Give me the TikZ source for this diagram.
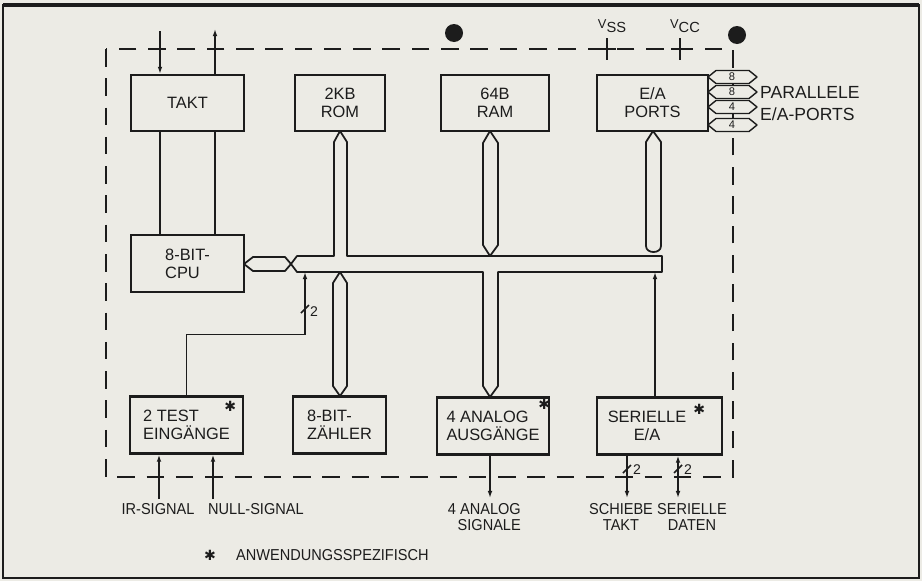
\documentclass[tikz,border=0pt]{standalone}
\usepackage{fontspec}
\setmainfont{Liberation Sans}
\newfontfamily\narrowfont[FakeStretch=0.92]{Liberation Sans}
\newfontfamily\symbolfont{DejaVu Sans}
\definecolor{paper}{RGB}{236,235,229}
\definecolor{ink}{RGB}{28,28,28}
\usetikzlibrary{calc,arrows.meta}

\newcommand{\spez}{{\symbolfont\fontsize{12}{12}\selectfont ✱}}

\tikzset{
  blk/.style={draw=ink, line width=2pt, fill=paper, inner sep=0pt, text=ink,
    font=\fontsize{14}{15.5}\selectfont},
  sig/.style={draw=ink, line width=1.3pt},
  bus/.style={draw=ink, line width=1.5pt, fill=paper, line join=round},
  dashbox/.style={draw=ink, line width=1.8pt, dash pattern=on 15pt off 10pt},
  lbl/.style={font=\narrowfont\fontsize{13.5}{13.6}\selectfont, inner sep=0pt, text=ink},
  plbl/.style={font=\fontsize{15}{15}\selectfont, inner sep=0pt, text=ink},
  portnum/.style={font=\fontsize{9.5}{9.5}\selectfont, inner sep=0pt, text=ink},
}

\begin{document}
\begin{tikzpicture}[x=0.03cm, y=-0.03cm, >={Latex[length=6pt,width=4pt]}]
    \useasboundingbox (0,0) rectangle (922,581);
    \fill[paper] (0,0) rectangle (922,581);
    % frame
    \draw[ink, line width=1.8pt] (3,5) rectangle (919,578);
    \draw[ink, line width=2.6pt] (3,5) -- (919,5);

    % chip outline
    \draw[dashbox] (106,49) rectangle (733,477);
    \fill[ink] (454,33) circle (9);
    \fill[ink] (737,35) circle (9);

    % supply pins
    \foreach \xx/\nm/\sub in {607/vss/SS, 680/vcc/CC} {
        \draw[ink, line width=1.8pt] (\xx,38) -- (\xx,60);
        \draw[ink, line width=1.8pt] (\xx-9,49) -- (\xx+9,49);
        \node[inner sep=0pt, text=ink] (\nm) at (\xx+5,26)
            {\raisebox{0.3ex}{\fontsize{11}{11}\selectfont V}\raisebox{-0.45ex}{\fontsize{12.5}{12.5}\selectfont \sub}};
    }

    % buses
    \draw[bus] (297,256) -- (334,256) -- (334,142) -- (340,131) -- (347,142) -- (347,256)
        -- (662,256) -- (662,272) -- (498,272) -- (498,386) -- (490,397) -- (483,386)
        -- (483,272) -- (297,272) -- (291,264) -- cycle;
    \draw[bus] (490,131) -- (498,143) -- (498,245) -- (490,256) -- (483,245) -- (483,143) -- cycle;
    \draw[bus] (340,272) -- (347,283) -- (347,386) -- (340,396) -- (333,386) -- (333,283) -- cycle;
    \draw[bus] (653,131) -- (661,142) -- (661,246) .. controls (661,254) and (646,254) .. (646,246)
        -- (646,142) -- cycle;
    \draw[bus] (244,264) -- (253,257) -- (285,257) -- (291,264) -- (285,271) -- (253,271) -- cycle;

    % blocks
    \node[blk, minimum width=3.39cm, minimum height=1.68cm] (takt) at (187.5,103) {TAKT};
    \node[blk, minimum width=2.7cm, minimum height=1.68cm, align=center] (rom) at (340,103) {2KB\\ROM};
    \node[blk, minimum width=3.24cm, minimum height=1.68cm, align=center] (ram) at (495,103) {64B\\RAM};
    \node[blk, minimum width=3.33cm, minimum height=1.68cm, align=center] (ports) at (652.5,103) {E/A\\PORTS};
    \node[blk, minimum width=3.39cm, minimum height=1.71cm, align=left] (cpu) at (187.5,263.5) {8-BIT-\\CPU};
    \node[blk, minimum width=3.39cm, minimum height=1.71cm, align=left] (test) at (186.5,425) {2 TEST\\EINGÄNGE};
    \node[blk, minimum width=2.79cm, minimum height=1.71cm, align=left] (zaehler) at (339.5,425) {8-BIT-\\ZÄHLER};
    \node[blk, minimum width=3.36cm, minimum height=1.71cm, align=left] (analog) at (493,426) {4 ANALOG\\AUSGÄNGE};
    \node[blk, minimum width=3.75cm, minimum height=1.71cm, align=center] (seriell) at (659.5,426)
        {SERIELLE\hspace*{0.75cm}\\E/A\hspace*{0.75cm}};

    \node[inner sep=0pt, text=ink] (st1) at ($(test.north east)+(-14,11)$) {\spez};
    \node[inner sep=0pt, text=ink] (st2) at ($(analog.north east)+(-6,8)$) {\spez};
    \node[inner sep=0pt, text=ink] (st3) at ($(seriell.north east)+(-24,13)$) {\spez};

    % parallel ports
    \foreach \yy/\nn [count=\i] in {77/8, 92/8, 107/4, 125/4} {
        \draw[bus, line width=1.2pt] (708,\yy) -- (716,\yy-6.5) -- (749,\yy-6.5) -- (757,\yy)
            -- (749,\yy+6.5) -- (716,\yy+6.5) -- cycle;
        \node[portnum] (pn\i) at (732,\yy) {\nn};
    }
    \node[plbl, anchor=west] (parl) at (760,92) {PARALLELE};
    \node[plbl, anchor=west] (eapl) at (760,114) {E/A-PORTS};

    % clock lines
    \coordinate (taktin) at (160,31);
    \coordinate (taktout) at (215,29);
    \draw[sig,->] (taktin) -- (taktin |- takt.north);
    \draw[sig,->] (taktout |- takt.north) -- (taktout);
    \draw[sig] (taktin |- takt.south) -- (taktin |- cpu.north);
    \draw[sig] (taktout |- takt.south) -- (taktout |- cpu.north);

    % test inputs to bus
    \coordinate (tp) at (305,272);
    \draw[sig,->] (test.north) -- ++(0,-61) -| (tp);
    \draw[sig] (301,313) -- (309,305);
    \node[plbl, font=\fontsize{12}{12}\selectfont] (n2a) at (314,312) {2};

    % serial to bus
    \coordinate (sp) at (655,272);
    \draw[sig,->] (sp |- seriell.north) -- (sp);

    % pins at the bottom
    \coordinate (irend) at (159,499);
    \coordinate (nullend) at (213,499);
    \coordinate (anaend) at (490,498);
    \coordinate (schend) at (627,498);
    \coordinate (datend) at (678,498);
    \draw[sig,->] (irend) -- (irend |- test.south);
    \draw[sig,->] (nullend) -- (nullend |- test.south);
    \draw[sig,->] (anaend |- analog.south) -- (anaend);
    \draw[sig,->] (schend |- seriell.south) -- (schend);
    \draw[sig,<->] (datend |- seriell.south) -- (datend);
    \draw[sig] ($(schend)+(-4,-25)$) -- ++(8,-8);
    \draw[sig] ($(datend)+(-4,-25)$) -- ++(8,-8);
    \node[plbl, font=\fontsize{12}{12}\selectfont] (n2b) at ($(schend)+(10,-28)$) {2};
    \node[plbl, font=\fontsize{12}{12}\selectfont] (n2c) at ($(datend)+(10,-28)$) {2};

    % labels
    \node[lbl, anchor=north] (irl) at (158,503) {IR-SIGNAL};
    \node[lbl, anchor=north west] (nulll) at (208,503) {NULL-SIGNAL};
    \node[lbl, anchor=north east, align=right] (anal) at (521,503) {4 ANALOG\\SIGNALE};
    \node[lbl, anchor=north, align=center] (schl) at (621,503) {SCHIEBE\\TAKT};
    \node[lbl, anchor=north, align=center] (datl) at (692,503) {SERIELLE\\DATEN};
    \node[inner sep=0pt, text=ink] (anwst) at (210,555) {\spez};
    \node[lbl, anchor=west] (anwl) at (236,555) {ANWENDUNGSSPEZIFISCH};
\end{tikzpicture}
\end{document}
